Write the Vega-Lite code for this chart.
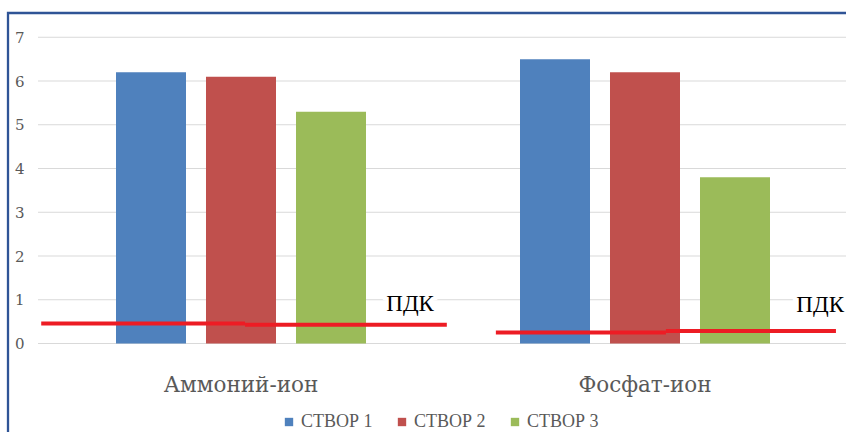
{
  "$schema": "https://vega.github.io/schema/vega-lite/v6.json",
  "width": 844,
  "height": 425,
  "autosize": {"type": "none"},
  "padding": {"left": 8, "top": 13, "right": -6, "bottom": -6},
  "background": "white",
  "config": {
    "view": {"stroke": "#2F5496", "strokeWidth": 2.3},
    "font": "Liberation Serif"
  },
  "datasets": {
    "grid": [{"v": 0}, {"v": 1}, {"v": 2}, {"v": 3}, {"v": 4}, {"v": 5}, {"v": 6}, {"v": 7}],
    "bars": [
      {"cat": "Аммоний-ион", "s": "СТВОР 1", "v": 6.2},
      {"cat": "Аммоний-ион", "s": "СТВОР 2", "v": 6.1},
      {"cat": "Аммоний-ион", "s": "СТВОР 3", "v": 5.3},
      {"cat": "Фосфат-ион", "s": "СТВОР 1", "v": 6.5},
      {"cat": "Фосфат-ион", "s": "СТВОР 2", "v": 6.2},
      {"cat": "Фосфат-ион", "s": "СТВОР 3", "v": 3.8}
    ],
    "pdk": [
      {"x": -0.002, "x2": 0.505, "v": 0.46},
      {"x": 0.505, "x2": 1.007, "v": 0.43},
      {"x": 1.129, "x2": 1.552, "v": 0.25},
      {"x": 1.552, "x2": 1.975, "v": 0.286}
    ],
    "labels": [
      {"x": 0.921, "v": 0.743, "t": "ПДК"},
      {"x": 1.936, "v": 0.71, "t": "ПДК"}
    ]
  },
  "resolve": {"scale": {"x": "independent"}},
  "layer": [
    {
      "data": {"name": "grid"},
      "mark": {"type": "rule", "color": "#D9D9D9", "strokeWidth": 1},
      "encoding": {
        "y": {
          "field": "v", "type": "quantitative",
          "scale": {"domain": [0, 7], "range": [330.5, 24.25], "nice": false, "zero": false},
          "axis": {
            "values": [0, 1, 2, 3, 4, 5, 6, 7], "format": "d", "grid": false, "domain": false, "ticks": false, "tickSize": 0,
            "labelPadding": -16, "labelAlign": "right", "labelFont": "DejaVu Serif", "labelFontSize": 15,
            "labelColor": "#595959", "title": null
          }
        },
        "x": {"datum": 0, "type": "quantitative", "scale": {"domain": [0, 2], "range": [30, 838]}, "axis": null},
        "x2": {"datum": 2}
      }
    },
    {
      "data": {"name": "bars"},
      "mark": {"type": "bar"},
      "encoding": {
        "x": {
          "field": "cat", "type": "nominal", "sort": null,
          "scale": {"range": [31, 839], "paddingInner": 0, "paddingOuter": 0},
          "axis": {
            "orient": "bottom", "offset": -47, "domain": false, "ticks": false, "tickSize": 0, "labelPadding": 0,
            "labelBaseline": "alphabetic", "labelAngle": 0, "labelFont": "DejaVu Serif", "labelFontSize": 21.5,
            "labelColor": "#595959", "title": null
          }
        },
        "xOffset": {"field": "s", "type": "nominal", "scale": {"paddingInner": 0.2222, "paddingOuter": 0.8556}},
        "y": {"field": "v", "type": "quantitative"},
        "color": {
          "field": "s", "type": "nominal",
          "scale": {"domain": ["СТВОР 1", "СТВОР 2", "СТВОР 3"], "range": ["#4F81BD", "#C0504D", "#9BBB59"]},
          "legend": {
            "orient": "none", "direction": "horizontal", "legendX": 272, "legendY": 400, "title": null,
            "symbolType": "square", "symbolSize": 70, "symbolStrokeWidth": 0, "labelFont": "Liberation Serif",
            "labelFontSize": 18, "labelColor": "#595959", "columnPadding": 20, "labelOffset": 3
          }
        }
      }
    },
    {
      "data": {"name": "labels"},
      "mark": {"type": "text", "font": "Liberation Serif", "fontSize": 23, "baseline": "alphabetic", "align": "center", "fill": "white", "stroke": "white", "strokeWidth": 8},
      "encoding": {
        "x": {"field": "x", "type": "quantitative", "scale": {"domain": [0, 2], "range": [30, 838]}, "axis": null},
        "y": {"field": "v", "type": "quantitative"},
        "text": {"field": "t"}
      }
    },
    {
      "data": {"name": "labels"},
      "mark": {"type": "text", "font": "Liberation Serif", "fontSize": 23, "baseline": "alphabetic", "align": "center", "fill": "black"},
      "encoding": {
        "x": {"field": "x", "type": "quantitative", "scale": {"domain": [0, 2], "range": [30, 838]}, "axis": null},
        "y": {"field": "v", "type": "quantitative"},
        "text": {"field": "t"}
      }
    },
    {
      "data": {"name": "pdk"},
      "mark": {"type": "rule", "color": "#ED1C24", "strokeWidth": 4, "strokeCap": "butt"},
      "encoding": {
        "x": {"field": "x", "type": "quantitative", "scale": {"domain": [-0.01, 2], "range": [30, 838]}, "axis": null},
        "x2": {"field": "x2"},
        "y": {"field": "v", "type": "quantitative"}
      }
    }
  ]
}
